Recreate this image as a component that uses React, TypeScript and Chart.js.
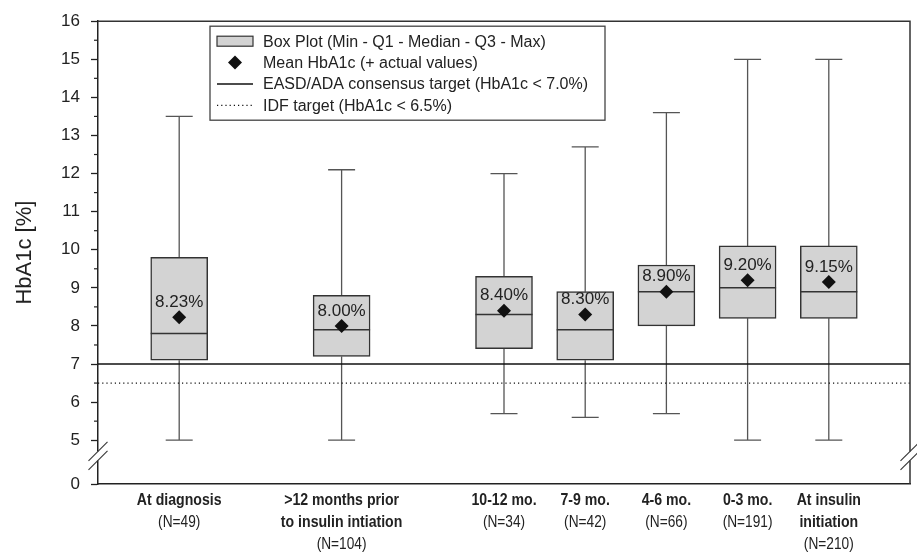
import React, { useEffect, useRef } from 'react';
import { Chart, registerables, LinearScale } from 'chart.js';

Chart.register(...registerables);

// ---------- data ----------
const categoryNames: string[][] = [
  ['At diagnosis'],
  ['>12 months prior', 'to insulin intiation'],
  ['10-12 mo.'],
  ['7-9 mo.'],
  ['4-6 mo.'],
  ['0-3 mo.'],
  ['At insulin', 'initiation'],
];
const sampleSizes = [49, 104, 34, 42, 66, 191, 210];
const categorySlots = [0, 2, 4, 5, 6, 7, 8];
const minValues = [5.0, 5.0, 5.7, 5.6, 5.7, 5.0, 5.0];
const q1Values = [7.1, 7.2, 7.4, 7.1, 8.0, 8.2, 8.2];
const medianValues = [7.8, 7.9, 8.3, 7.9, 8.9, 9.0, 8.9];
const q3Values = [9.8, 8.8, 9.3, 8.9, 9.6, 10.1, 10.1];
const maxValues = [13.5, 12.1, 12.0, 12.7, 13.6, 15.0, 15.0];
const meanValues = [8.23, 8.0, 8.4, 8.3, 8.9, 9.2, 9.15];
const yTickValues = [0, 5, 6, 7, 8, 9, 10, 11, 12, 13, 14, 15, 16];
const yMinorTickValues = [5.5, 6.5, 7.5, 8.5, 9.5, 10.5, 11.5, 12.5, 13.5, 14.5, 15.5];
const easdTarget = 7.0;
const idfTarget = 6.5;
const legendLabels = [
  'Box Plot (Min - Q1 - Median - Q3 - Max)',
  'Mean HbA1c (+ actual values)',
  'EASD/ADA consensus target (HbA1c < 7.0%)',
  'IDF target (HbA1c < 6.5%)',
];

// ---------- broken axis scale ----------
const BREAK_AT = 5;
const BREAK_COMPRESSION = 0.23;

class BrokenLinearScale extends LinearScale {
  static id = 'brokenLinear';
  static defaults = { ...(LinearScale as any).defaults };
  warp(v: number) {
    return v >= BREAK_AT ? v : BREAK_AT - (BREAK_AT - v) * BREAK_COMPRESSION;
  }
  getPixelForValue(value: number) {
    if (value === null || value === undefined) return NaN;
    const lo = this.warp(this.min);
    const hi = this.warp(this.max);
    return this.getPixelForDecimal((this.warp(value) - lo) / (hi - lo));
  }
  getValueForPixel(pixel: number) {
    const lo = this.warp(this.min);
    const hi = this.warp(this.max);
    const w = lo + this.getDecimalForPixel(pixel) * (hi - lo);
    return w >= BREAK_AT ? w : BREAK_AT - (BREAK_AT - w) / BREAK_COMPRESSION;
  }
}
Chart.register(BrokenLinearScale as any);

const FONT = "'Liberation Sans', Arial, Helvetica, sans-serif";
const INK = '#222';
const BOX_FILL = '#d3d3d3';
const BOX_LINE = '#333';
const WHISKER = '#555';
const CONDENSE = 0.83;

function drawBreak(ctx: CanvasRenderingContext2D, x: number, y: number) {
  ctx.save();
  ctx.fillStyle = '#fff';
  ctx.fillRect(x - 3, y - 4.5, 6, 9);
  ctx.strokeStyle = '#333';
  ctx.lineWidth = 1.1;
  for (const off of [-4.5, 4.5]) {
    ctx.beginPath();
    ctx.moveTo(x - 9.5, y + off + 9.5);
    ctx.lineTo(x + 9.5, y + off - 9.5);
    ctx.stroke();
  }
  ctx.restore();
}

function condensedText(ctx: CanvasRenderingContext2D, text: string, x: number, y: number) {
  ctx.save();
  ctx.translate(x, y);
  ctx.scale(CONDENSE, 1);
  ctx.fillText(text, 0, 0);
  ctx.restore();
}

const boxPlotPlugin = {
  id: 'boxPlotExtras',
  beforeDatasetsDraw(chart: any) {
    const { ctx, scales } = chart;
    const xs = scales.x;
    const ys = scales.y;
    ctx.save();
    ctx.strokeStyle = WHISKER;
    ctx.lineWidth = 1.3;
    categorySlots.forEach((slot, i) => {
      const x = xs.getPixelForValue(slot);
      const half = 13.5;
      const yMin = ys.getPixelForValue(minValues[i]);
      const yMax = ys.getPixelForValue(maxValues[i]);
      const yQ1 = ys.getPixelForValue(q1Values[i]);
      const yQ3 = ys.getPixelForValue(q3Values[i]);
      ctx.beginPath();
      ctx.moveTo(x, yMin);
      ctx.lineTo(x, yQ1);
      ctx.moveTo(x, yQ3);
      ctx.lineTo(x, yMax);
      ctx.moveTo(x - half, yMin);
      ctx.lineTo(x + half, yMin);
      ctx.moveTo(x - half, yMax);
      ctx.lineTo(x + half, yMax);
      ctx.stroke();
    });
    ctx.restore();
  },
  afterDatasetDraw(chart: any, args: any) {
    if (args.meta.type !== 'bar') return;
    const { ctx, scales } = chart;
    const xs = scales.x;
    const ys = scales.y;
    ctx.save();
    ctx.strokeStyle = BOX_LINE;
    ctx.lineWidth = 1.5;
    args.meta.data.forEach((bar: any, i: number) => {
      const x = xs.getPixelForValue(categorySlots[i]);
      const w = bar.width / 2;
      const y = ys.getPixelForValue(medianValues[i]);
      ctx.beginPath();
      ctx.moveTo(x - w, y);
      ctx.lineTo(x + w, y);
      ctx.stroke();
    });
    ctx.restore();
  },
  afterDraw(chart: any) {
    const { ctx, scales, chartArea: ca } = chart;
    const xs = scales.x;
    const ys = scales.y;
    ctx.save();

    // mean value labels
    ctx.fillStyle = INK;
    ctx.font = `17px ${FONT}`;
    ctx.textAlign = 'center';
    ctx.textBaseline = 'middle';
    meanValues.forEach((m, i) => {
      ctx.fillText(`${m.toFixed(2)}%`, xs.getPixelForValue(categorySlots[i]), ys.getPixelForValue(m) - 15);
    });

    // frame: top and right
    ctx.strokeStyle = '#333';
    ctx.lineWidth = 1.5;
    ctx.beginPath();
    ctx.moveTo(ca.left, ca.top);
    ctx.lineTo(ca.right, ca.top);
    ctx.lineTo(ca.right, ca.bottom);
    ctx.stroke();

    // minor ticks
    ctx.strokeStyle = INK;
    ctx.lineWidth = 1.2;
    yMinorTickValues.forEach((v) => {
      const y = ys.getPixelForValue(v);
      ctx.beginPath();
      ctx.moveTo(ca.left - 4, y);
      ctx.lineTo(ca.left, y);
      ctx.stroke();
    });

    // axis breaks
    const yb5 = ys.getPixelForValue(BREAK_AT);
    const yb0 = ys.getPixelForValue(0);
    const yBreak = yb5 + 0.36 * (yb0 - yb5);
    drawBreak(ctx, ca.left, yBreak);
    drawBreak(ctx, ca.right, yBreak);

    // category labels
    ctx.fillStyle = INK;
    ctx.textAlign = 'center';
    ctx.textBaseline = 'middle';
    categorySlots.forEach((slot, i) => {
      const x = xs.getPixelForValue(slot);
      let y = ca.bottom + 16;
      ctx.font = `bold 17px ${FONT}`;
      categoryNames[i].forEach((line) => {
        condensedText(ctx, line, x, y);
        y += 22;
      });
      ctx.font = `16.5px ${FONT}`;
      condensedText(ctx, `(N=${sampleSizes[i]})`, x, y);
    });

    // legend
    const lx = ca.left + 112;
    const ly = ca.top + 5;
    const lw = 395;
    const lh = 94;
    ctx.fillStyle = '#fff';
    ctx.fillRect(lx, ly, lw, lh);
    ctx.strokeStyle = '#444';
    ctx.lineWidth = 1.3;
    ctx.strokeRect(lx, ly, lw, lh);
    const sx0 = lx + 7;
    const sx1 = lx + 43;
    const rowY = (k: number) => ly + 15 + k * 21.4;
    ctx.fillStyle = BOX_FILL;
    ctx.fillRect(sx0, rowY(0) - 5, sx1 - sx0, 10);
    ctx.strokeStyle = BOX_LINE;
    ctx.lineWidth = 1.2;
    ctx.strokeRect(sx0, rowY(0) - 5, sx1 - sx0, 10);
    const dx = (sx0 + sx1) / 2;
    const dy = rowY(1);
    ctx.fillStyle = '#111';
    ctx.beginPath();
    ctx.moveTo(dx, dy - 7);
    ctx.lineTo(dx + 7, dy);
    ctx.lineTo(dx, dy + 7);
    ctx.lineTo(dx - 7, dy);
    ctx.closePath();
    ctx.fill();
    ctx.strokeStyle = '#111';
    ctx.lineWidth = 1.3;
    ctx.beginPath();
    ctx.moveTo(sx0, rowY(2));
    ctx.lineTo(sx1, rowY(2));
    ctx.stroke();
    ctx.setLineDash([1.2, 3]);
    ctx.beginPath();
    ctx.moveTo(sx0, rowY(3));
    ctx.lineTo(sx1, rowY(3));
    ctx.stroke();
    ctx.setLineDash([]);
    ctx.fillStyle = INK;
    ctx.font = `16px ${FONT}`;
    ctx.textAlign = 'left';
    ctx.textBaseline = 'middle';
    legendLabels.forEach((t, k) => ctx.fillText(t, lx + 53, rowY(k) + 1));

    ctx.restore();
  },
};

export default function App() {
  const canvasRef = useRef<HTMLCanvasElement | null>(null);

  useEffect(() => {
    if (!canvasRef.current) return;
    const chart = new Chart(canvasRef.current, {
      type: 'bar',
      data: {
        datasets: [
          {
            type: 'scatter',
            label: 'Mean HbA1c',
            data: categorySlots.map((s, i) => ({ x: s, y: meanValues[i] })),
            pointStyle: 'rectRot',
            pointRadius: 7,
            backgroundColor: '#111',
            borderColor: '#111',
            borderWidth: 0,
            order: 1,
          } as any,
          {
            type: 'bar',
            label: 'Box Plot',
            data: categorySlots.map((s, i) => ({ x: s, y: [q1Values[i], q3Values[i]] })),
            backgroundColor: BOX_FILL,
            borderColor: BOX_LINE,
            borderWidth: 1.5,
            borderSkipped: false,
            barThickness: 57,
            grouped: false,
            order: 2,
          } as any,
          {
            type: 'line',
            label: 'EASD/ADA',
            data: [
              { x: -1, y: easdTarget },
              { x: 9, y: easdTarget },
            ],
            borderColor: '#111',
            borderWidth: 1.4,
            pointRadius: 0,
            order: 3,
          } as any,
          {
            type: 'line',
            label: 'IDF',
            data: [
              { x: -1, y: idfTarget },
              { x: 9, y: idfTarget },
            ],
            borderColor: '#111',
            borderWidth: 1.2,
            borderDash: [1.2, 3],
            pointRadius: 0,
            order: 3,
          } as any,
        ],
      },
      options: {
        responsive: false,
        animation: false,
        events: [],
        layout: { padding: { top: 19, right: 6, left: 0, bottom: 0 } },
        plugins: {
          legend: { display: false },
          tooltip: { enabled: false },
        },
        scales: {
          x: {
            type: 'linear',
            min: -1,
            max: 9,
            offset: false,
            ticks: { display: false },
            grid: { display: false, offset: false },
            border: { display: true, color: '#222', width: 1.5 },
            afterFit: (s: any) => {
              s.height = 68;
            },
          },
          y: {
            type: 'brokenLinear',
            min: 0,
            max: 16,
            afterBuildTicks: (s: any) => {
              s.ticks = yTickValues.map((v) => ({ value: v }));
            },
            ticks: {
              autoSkip: false,
              color: INK,
              padding: 11,
              font: { family: FONT, size: 17 },
              callback: (v: any) => String(v),
            },
            grid: {
              drawOnChartArea: false,
              tickLength: 7,
              tickColor: '#222',
              tickWidth: 1.3,
            },
            border: { display: true, color: '#222', width: 1.5 },
            title: {
              display: true,
              text: 'HbA1c [%]',
              color: INK,
              font: { family: FONT, size: 22 },
              padding: { top: 12, bottom: 0 },
            },
            afterFit: (s: any) => {
              s.width = 98;
            },
          } as any,
        },
      } as any,
      plugins: [boxPlotPlugin],
    });
    return () => chart.destroy();
  }, []);

  return (
    <div style={{ position: 'absolute', left: 0, top: 0, width: 917, height: 552, background: '#fff' }}>
      <canvas ref={canvasRef} width={917} height={552} />
    </div>
  );
}
